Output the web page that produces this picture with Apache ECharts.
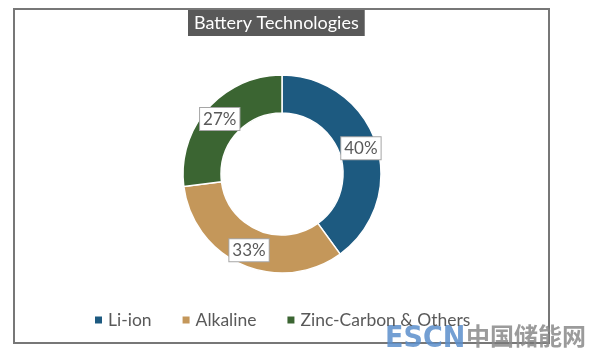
<!DOCTYPE html>
<html><head><meta charset="utf-8">
<script src="https://cdn.jsdelivr.net/npm/echarts@6/dist/echarts.min.js"></script>
<style>html,body{margin:0;padding:0;background:#fff}#c{width:591px;height:357px}</style>
</head><body><div id="c"></div>
<script>
const categories = ['Li-ion', 'Alkaline', 'Zinc-Carbon & Others'];
const shares = [40, 33, 27];
const colors = ['#1d5a80', '#c4975a', '#3b6532'];
const titleText = 'Battery Technologies';

const chart = echarts.init(document.getElementById('c'), null, {renderer: 'canvas'});
const font = 'Lato, "Open Sans", sans-serif';
chart.setOption({
  backgroundColor: '#fff',
  animation: false,
  color: colors,
  title: {
    text: titleText, top: 10, left: 188,
    backgroundColor: '#595959', padding: [4, 6, 4, 6],
    textStyle: {color: '#fff', fontSize: 18, fontWeight: 'normal', fontFamily: font, lineHeight: 18}
  },
  legend: {
    top: 306, left: 88, itemWidth: 9, itemHeight: 9, itemGap: 29,
    icon: 'rect', data: categories,
    textStyle: {color: '#595959', fontSize: 17.5, fontFamily: font}
  },
  graphic: [
    {type: 'rect', shape: {x: 14, y: 9, width: 535, height: 334}, style: {fill: 'none', stroke: '#777', lineWidth: 2}, z: -1},
    {type: 'text', left: 385, top: 324, style: {text: 'ESCN', fill: '#5b8ecb', font: 'bold 30px "DejaVu Sans Condensed", "DejaVu Sans", sans-serif', opacity: 0.85}},
    {type: 'text', left: 466, top: 324, style: {text: '中国储能网', fill: '#8a8a8a', font: 'bold 24px "Noto Sans CJK SC", sans-serif', opacity: 0.85}}
  ],
  series: [{
    type: 'pie', center: [282, 174], radius: [61, 99], startAngle: 90, clockwise: true,
    itemStyle: {borderColor: '#fff', borderWidth: 1.5},
    label: {
      position: 'inside', formatter: '{c}%', color: '#595959', fontSize: 17, fontFamily: font,
      backgroundColor: '#fff', borderColor: '#a6a6a6', borderWidth: 1, padding: [3, 3, 2, 3]
    },
    labelLine: {show: false},
    data: categories.map((n, i) => ({name: n, value: shares[i]}))
  }]
});
</script></body></html>
